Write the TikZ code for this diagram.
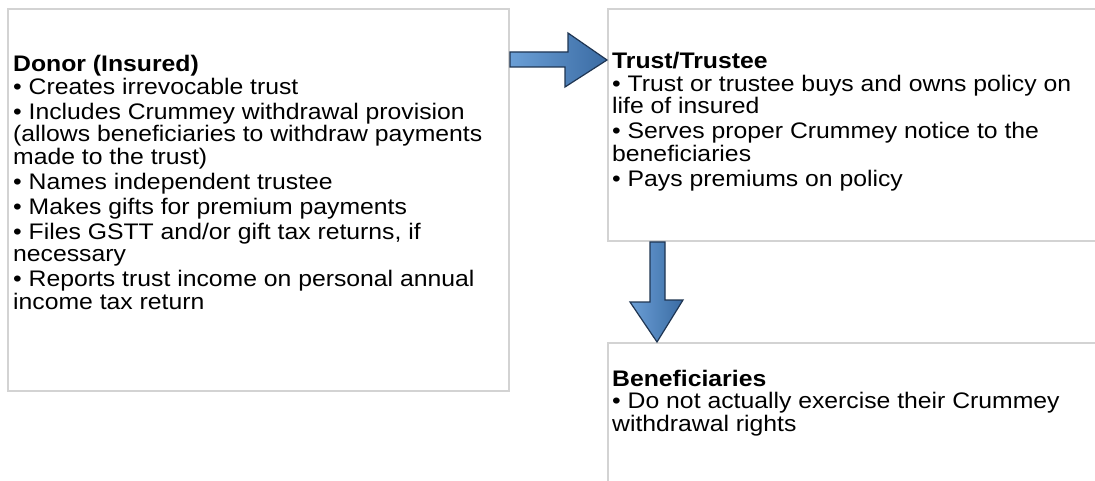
\documentclass[tikz,border=0pt]{standalone}
\usepackage{fontspec}
\setmainfont{Liberation Sans}[FakeStretch=1.1]
\usetikzlibrary{positioning}

\definecolor{boxgray}{HTML}{D3D3D3}
\definecolor{arrowlight}{HTML}{6B9FD6}
\definecolor{arrowdark}{HTML}{3A6BA3}
\definecolor{arrowline}{HTML}{1F3552}

\tikzset{
  panel/.style={draw=boxgray, line width=2pt, fill=white, anchor=north west, inner sep=0pt},
  paneltext/.style={anchor=base west, inner sep=0pt, font=\fontsize{22.5}{22.5}\selectfont},
  blockarrow/.style={draw=arrowline, line width=1.2pt, line join=miter,
    left color=arrowlight, right color=arrowdark}
}
\newcommand{\nextitem}{\\[2.5pt]}

\begin{document}
\begin{tikzpicture}[x=1pt, y=-1pt]
\useasboundingbox (0,0) rectangle (1095,481);
\clip (0,0) rectangle (1095,481);

% Boxes
\node[panel, minimum width=501pt, minimum height=382pt] (donor) at (7,8) {};
\node[panel, minimum width=520pt, minimum height=232pt] (trust) at (607,8) {};
\node[panel, minimum width=520pt, minimum height=180pt] (benef) at (607,342) {};

% Box texts
\node[paneltext] (donortext) at (13,72) {\parbox[t]{490pt}{\raggedright
  \textbf{Donor (Insured)}\\
  • Creates irrevocable trust\nextitem
  • Includes Crummey withdrawal provision\\
  (allows beneficiaries to withdraw payments\\
  made to the trust)\nextitem
  • Names independent trustee\nextitem
  • Makes gifts for premium payments\nextitem
  • Files GSTT and/or gift tax returns, if\\
  necessary\nextitem
  • Reports trust income on personal annual\\
  income tax return}};
\node[paneltext] (trusttext) at (612,69) {\parbox[t]{475pt}{\raggedright
  \textbf{Trust/Trustee}\\
  • Trust or trustee buys and owns policy on\\
  life of insured\nextitem
  • Serves proper Crummey notice to the\\
  beneficiaries\nextitem
  • Pays premiums on policy}};
\node[paneltext] (beneftext) at (612,386) {\parbox[t]{475pt}{\raggedright
  \textbf{Beneficiaries}\\
  • Do not actually exercise their Crummey\\
  withdrawal rights}};

% Arrows
\draw[blockarrow] ([yshift=-44pt]donor.north east) -- ++(58,0) -- ++(0,-19)
  -- ([yshift=-52pt]trust.north west) -- ++(-42,27) -- ++(0,-20)
  -- ([yshift=-59pt]donor.north east) -- cycle;
\draw[blockarrow] ([xshift=43pt]trust.south west) -- ++(0,60) -- ++(-20,0)
  -- ([xshift=50pt]benef.north west) -- ++(26,-42) -- ++(-18,0)
  -- ([xshift=58pt]trust.south west) -- cycle;

\end{tikzpicture}
\end{document}
